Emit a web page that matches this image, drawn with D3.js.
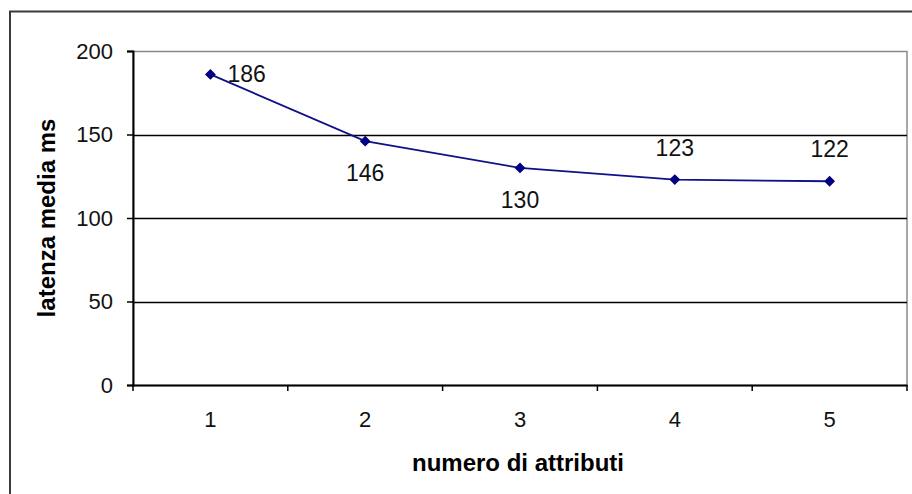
<!DOCTYPE html>
<html>
<head>
<meta charset="utf-8">
<script src="https://cdn.jsdelivr.net/npm/d3@7"></script>
<style>
  html, body { margin: 0; padding: 0; background: #fff; }
  svg { display: block; font-family: "Liberation Sans", Arial, sans-serif; }
</style>
</head>
<body>
<svg id="chart" width="912" height="494"></svg>
<script>
// Average latency by number of attributes
const categories = ["1", "2", "3", "4", "5"];
const latency = [186, 146, 130, 123, 122];
const labelSide = ["right", "below", "below", "above", "above"];
const yTicks = [0, 50, 100, 150, 200];

const svg = d3.select("#chart");
const plot = { left: 133, top: 51, right: 907, bottom: 385 };

// Chart area frame (runs off the right and bottom edges)
svg.append("rect")
  .attr("x", 10).attr("y", 11.5)
  .attr("width", 920).attr("height", 500)
  .attr("fill", "#fff")
  .attr("stroke", "#3a3a3a").attr("stroke-width", 2);

const x = d3.scaleBand().domain(categories).range([plot.left, plot.right]);
const y = d3.scaleLinear().domain([0, 200]).range([plot.bottom, plot.top]);

// Plot area outline (grey)
svg.append("rect")
  .attr("x", plot.left).attr("y", plot.top + 0.5)
  .attr("width", plot.right - plot.left).attr("height", plot.bottom - plot.top)
  .attr("fill", "none").attr("stroke", "#8a8a8a").attr("stroke-width", 1.5);

// Horizontal gridlines
svg.append("g").selectAll("line")
  .data(yTicks.filter(t => t > 0 && t < 200))
  .join("line")
  .attr("x1", plot.left).attr("x2", plot.right)
  .attr("y1", d => Math.round(y(d)) + 0.5).attr("y2", d => Math.round(y(d)) + 0.5)
  .attr("stroke", "#000").attr("stroke-width", 1.3);

// Y axis
const yAxis = svg.append("g")
  .attr("transform", `translate(${plot.left},0)`)
  .call(d3.axisLeft(y).tickValues(yTicks).tickSize(6).tickPadding(14));
yAxis.select(".domain").attr("stroke", "#000").attr("stroke-width", 2);
yAxis.selectAll(".tick line").attr("stroke", "#000").attr("stroke-width", 1.5);
yAxis.selectAll(".tick text")
  .attr("font-size", 22).attr("fill", "#111")
  .attr("font-family", "Liberation Sans, Arial, sans-serif");

// X axis with ticks between categories
const xAxis = svg.append("g")
  .attr("transform", `translate(0,${plot.bottom})`)
  .call(d3.axisBottom(x).tickSize(0).tickPadding(26));
xAxis.select(".domain").attr("stroke", "#000").attr("stroke-width", 2);
xAxis.selectAll(".tick text")
  .attr("font-size", 22).attr("fill", "#111")
  .attr("font-family", "Liberation Sans, Arial, sans-serif");
const bounds = categories.map(c => x(c)).concat([plot.right]);
svg.append("g").selectAll("line")
  .data(bounds)
  .join("line")
  .attr("x1", d => d).attr("x2", d => d)
  .attr("y1", plot.bottom).attr("y2", plot.bottom + 6)
  .attr("stroke", "#000").attr("stroke-width", 1.5);

// Series line
const cx = (d, i) => x(categories[i]) + x.bandwidth() / 2;
const line = d3.line().x(cx).y(d => y(d));
svg.append("path")
  .datum(latency)
  .attr("d", line)
  .attr("fill", "none")
  .attr("stroke", "#101088").attr("stroke-width", 1.8);

// Diamond markers
svg.append("g").selectAll("path")
  .data(latency)
  .join("path")
  .attr("transform", (d, i) => `translate(${cx(d, i)},${y(d)})`)
  .attr("d", d3.symbol(d3.symbolDiamond2, 75)())
  .attr("fill", "#000080");

// Data labels
svg.append("g").selectAll("text")
  .data(latency)
  .join("text")
  .attr("x", (d, i) => labelSide[i] === "right" ? cx(d, i) + 17 : cx(d, i))
  .attr("y", (d, i) => {
    if (labelSide[i] === "right") return y(d);
    return labelSide[i] === "below" ? y(d) + 32 : y(d) - 32;
  })
  .attr("text-anchor", (d, i) => labelSide[i] === "right" ? "start" : "middle")
  .attr("dominant-baseline", "central")
  .attr("font-size", 23).attr("fill", "#111")
  .text(d => d);

// Axis titles
svg.append("text")
  .attr("transform", `translate(55,${(plot.top + plot.bottom) / 2}) rotate(-90)`)
  .attr("text-anchor", "middle")
  .attr("font-size", 24).attr("font-weight", "bold").attr("fill", "#000")
  .text("latenza media ms");

svg.append("text")
  .attr("x", 518)
  .attr("y", 471)
  .attr("text-anchor", "middle")
  .attr("font-size", 24).attr("font-weight", "bold").attr("fill", "#000")
  .text("numero di attributi");
</script>
</body>
</html>
